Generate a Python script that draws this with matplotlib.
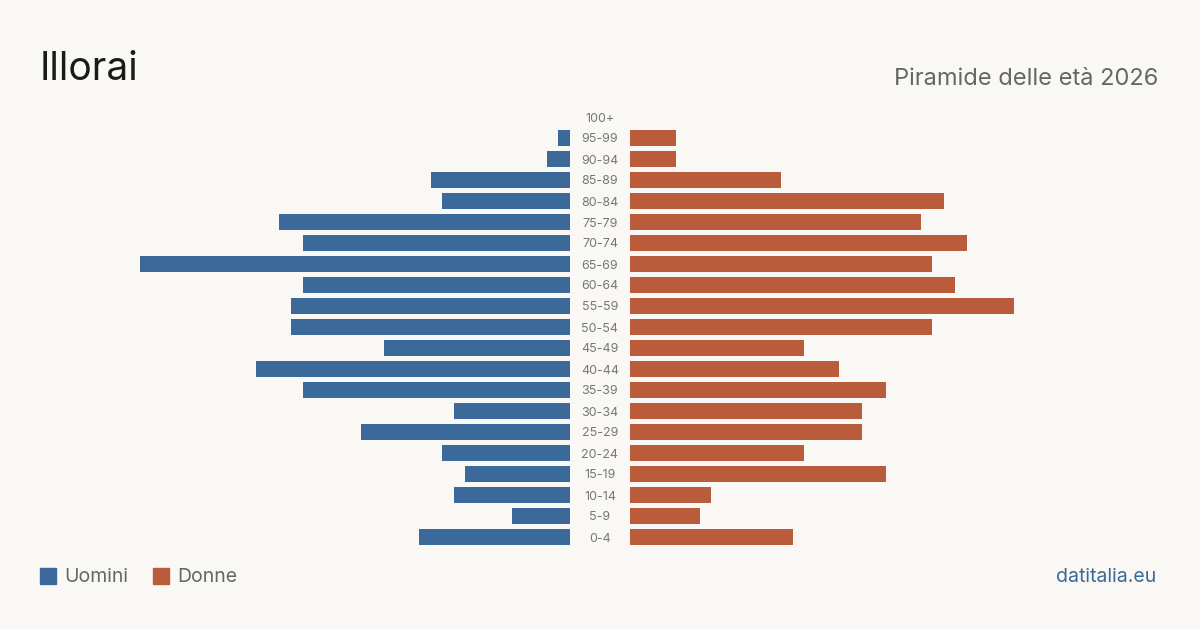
import matplotlib.pyplot as plt
from matplotlib.patches import Rectangle

plt.rcParams['font.family'] = ['Inter', 'DejaVu Sans']

age_groups = ['0-4', '5-9', '10-14', '15-19', '20-24', '25-29', '30-34', '35-39',
              '40-44', '45-49', '50-54', '55-59', '60-64', '65-69', '70-74', '75-79',
              '80-84', '85-89', '90-94', '95-99', '100+']
men = [13, 5, 10, 9, 11, 18, 10, 23, 27, 16, 24, 24, 23, 37, 23, 25, 11, 12, 2, 1, 0]
women = [14, 6, 7, 22, 15, 20, 20, 22, 18, 15, 26, 33, 28, 26, 29, 25, 27, 13, 4, 4, 0]

bg = '#f9f8f4'
blue = '#3b6a9a'
orange = '#b95c3c'

W, H = 1200, 630
fig = plt.figure(figsize=(12, 6.3), dpi=100, facecolor=bg)

x_max = max(max(men), max(women))
bottom = 1 - 547.5 / H
height = 441 / H

ax_l = fig.add_axes([140 / W, bottom, 430 / W, height])
ax_r = fig.add_axes([630 / W, bottom, 430 / W, height])

y = list(range(len(age_groups)))
ax_l.barh(y, men, height=0.8, color=blue)
ax_r.barh(y, women, height=0.8, color=orange)
ax_l.set_xlim(x_max, 0)
ax_r.set_xlim(0, x_max)

for ax in (ax_l, ax_r):
    ax.set_ylim(-0.5, len(age_groups) - 0.5)
    ax.axis('off')
    ax.set_facecolor('none')

for i, lab in enumerate(age_groups):
    yy = (547.5 - 10.5 - 21 * i) + 1.5
    fig.text(600 / W, 1 - yy / H, lab, ha='center', va='center',
             fontsize=9, color='#777777')

fig.text(40 / W, 1 - 80 / H, 'Illorai', fontsize=28, color='#1a1a1a',
         ha='left', va='baseline')
fig.text(1158 / W, 1 - 85 / H, 'Piramide delle età 2026', fontsize=17,
         color='#666666', ha='right', va='baseline')

# legend
fig.patches.append(Rectangle((40 / W, 1 - 584 / H), 16 / W, 16 / H,
                             transform=fig.transFigure, color=blue))
fig.text(64 / W, 1 - 577.5 / H, 'Uomini', fontsize=14, color='#666666',
         ha='left', va='center')
fig.patches.append(Rectangle((153 / W, 1 - 584 / H), 16 / W, 16 / H,
                             transform=fig.transFigure, color=orange))
fig.text(177 / W, 1 - 577.5 / H, 'Donne', fontsize=14, color='#666666',
         ha='left', va='center')

fig.text(1156 / W, 1 - 577.5 / H, 'datitalia.eu', fontsize=14, color=blue,
         ha='right', va='center')

fig.savefig('out.png', dpi=100, facecolor=bg)
